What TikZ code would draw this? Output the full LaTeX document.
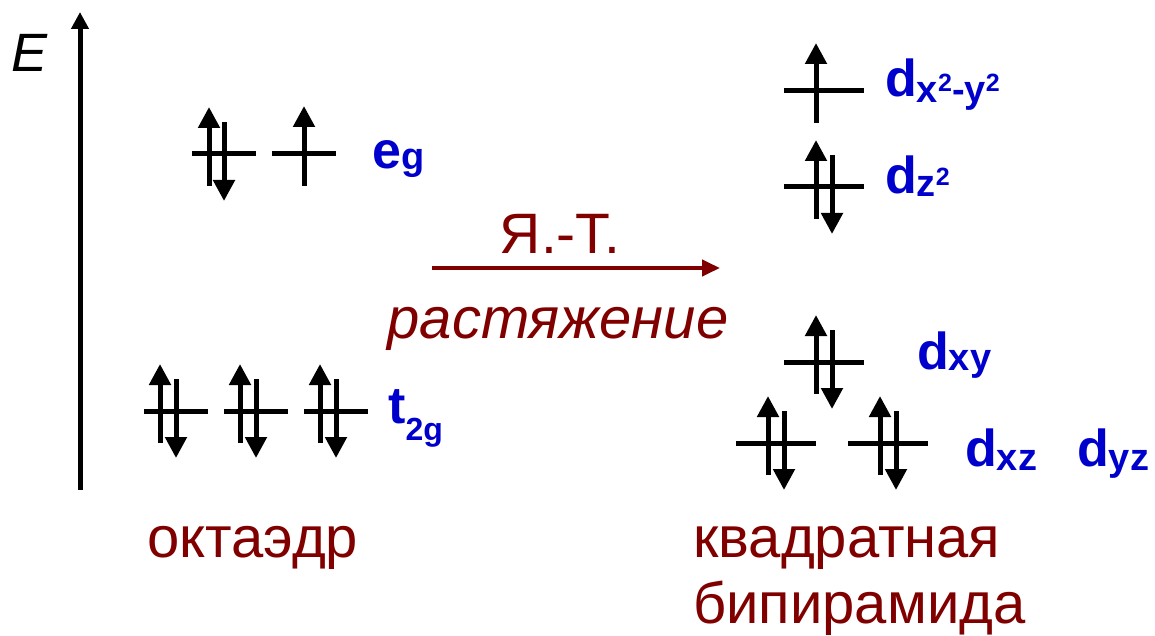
\documentclass[tikz,border=0pt]{standalone}
\usepackage{fontspec}
\setmainfont{Liberation Sans}
\usepackage{xcolor}
\usepackage{tikz}
\usetikzlibrary{arrows.meta}
\definecolor{lvlblue}{RGB}{0,0,204}
\definecolor{capred}{RGB}{128,0,0}
\newcommand{\lsub}[3][38]{\raisebox{-#2}{\fontsize{#1}{#1}\selectfont #3}}
\newcommand{\lsup}[1]{\raisebox{11pt}{\fontsize{25}{26}\selectfont #1}}

\begin{document}
\begin{tikzpicture}[x=1pt, y=-1pt,
    level/.style={line width=5pt},
    spin/.style={line width=5pt, -{Triangle[length=21pt,width=21pt]}},
    txt/.style={font=\fontsize{58}{66}\selectfont, text=capred, inner sep=0pt, anchor=base west},
    lbl/.style={font=\fontsize{52}{60}\selectfont\bfseries, text=lvlblue, inner sep=0pt, anchor=base west}]
  \useasboundingbox (0,0) rectangle (1155,636);
  % energy axis
  \coordinate (ebot) at (80,490);
  \coordinate (etop) at (80,12);
  \draw[line width=5pt, -{Triangle[length=17pt,width=17pt]}] (ebot) -- (etop);
  \node[anchor=base west, inner sep=0pt, font=\fontsize{54}{60}\selectfont\itshape] (E) at (11,72) {E};
  % paired levels: centre x / y / half width / up offset / down offset
  \foreach \cx/\cy/\hw/\upx/\dnx in {224/154/32/-15/0, 176/411/32/-16/0, 256/411/32/-16/0,
      336/411/32/-16/0, 824/187/40/-8/8, 824/362/40/-8/8, 776/443/40/-8/8, 888/443/40/-8/8} {
    \draw[level] (\cx-\hw,\cy) -- (\cx+\hw,\cy);
    \draw[spin] (\cx+\upx,\cy+32) -- (\cx+\upx,\cy-47);
    \draw[spin] (\cx+\dnx,\cy-32) -- (\cx+\dnx,\cy+47);
  }
  % single electrons
  \foreach \cx/\cy/\hw/\upx in {304/154/32/0, 824/91/40/-8} {
    \draw[level] (\cx-\hw,\cy) -- (\cx+\hw,\cy);
    \draw[spin] (\cx+\upx,\cy+32) -- (\cx+\upx,\cy-48);
  }
  % level labels
  \node[lbl] (eg) at (372,169) {e\lsub{1pt}{g}};
  \node[lbl] (t2g) at (388,423) {t\lsub[32]{17pt}{2g}};
  \node[lbl] (dx2y2) at (885,97) {d\lsub{6pt}{x\lsup{2}-y\lsup{2}}};
  \node[lbl] (dz2) at (885,194) {d\lsub{3pt}{z\lsup{2}}};
  \node[lbl] (dxy) at (917,369) {d\lsub{1pt}{xy}};
  \node[lbl] (dxz) at (965,466) {d\lsub{4pt}{xz}};
  \node[lbl] (dyz) at (1077,466) {d\lsub{4pt}{yz}};
  % Jahn-Teller arrow
  \coordinate (jtA) at (432,268);
  \coordinate (jtB) at (720,268);
  \draw[capred, line width=4pt, -{Triangle[length=18pt,width=16pt]}] (jtA) -- (jtB);
  \node[txt, anchor=base, font=\fontsize{57}{60}\selectfont] (jt) at (560,253) {Я.-Т.};
  \node[txt, anchor=base, font=\fontsize{58}{66}\selectfont\itshape] (stretch) at (558,338) {растяжение};
  % geometries
  \node[txt] (oct) at (147,557) {октаэдр};
  \node[txt] (sq1) at (693,557) {квадратная};
  \node[txt] (sq2) at (693,623) {бипирамида};
\end{tikzpicture}
\end{document}
